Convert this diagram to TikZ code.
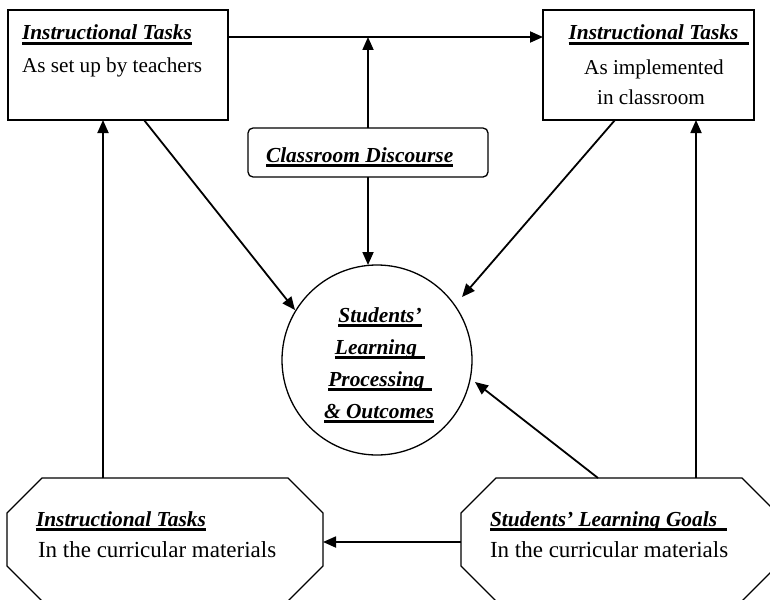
\documentclass[tikz,border=0pt]{standalone}
\usepackage{fontspec}
\setmainfont{Liberation Serif}
\usetikzlibrary{arrows.meta,calc}
\newcommand{\ulbox}[2][0pt]{\setbox0=\hbox{#2\kern#1}\leavevmode\rlap{\rule[-5pt]{\wd0}{2.6pt}}\box0}
\begin{document}
\begin{tikzpicture}[x=1pt,y=-1pt,
  every node/.style={outer sep=0pt},
  boxshape/.style={draw, line width=1.3pt, inner sep=0pt},
  octline/.style={draw, line width=1.3pt},
  arr/.style={line width=1.8pt, -{Triangle[length=13pt,width=11pt]}},
  titlefont/.style={font=\fontsize{21.4}{24}\selectfont\bfseries\itshape, inner sep=0pt},
  bodyfont/.style={font=\fontsize{21.2}{24}\selectfont, inner sep=0pt},
  bodyfontb/.style={font=\fontsize{23}{26}\selectfont, inner sep=0pt}]
\useasboundingbox (0,0) rectangle (770,599);
\clip (0,0) rectangle (770,599);
\fill[white] (0,0) rectangle (770,599);

% boxes
\node[boxshape, minimum width=220pt, minimum height=110pt] (tl) at (118,65) {};
\node[boxshape, minimum width=211pt, minimum height=110pt] (tr) at (648.5,65) {};
\node[boxshape, rounded corners=5pt, minimum width=240pt, minimum height=49pt] (cd) at (368,152.5) {};
\node[circle, draw, line width=1.3pt, minimum size=190pt, inner sep=0pt] (c) at (377,360) {};
\node[minimum width=316pt, minimum height=123pt, inner sep=0pt] (lo) at (165,539.5) {};
\node[minimum width=316pt, minimum height=123pt, inner sep=0pt] (ro) at (619,539.5) {};

% octagons
\draw[octline] ([xshift=35pt]lo.north west) -- ([xshift=-35pt]lo.north east)
  -- ([yshift=-35pt]lo.north east) -- ([yshift=35pt]lo.south east)
  -- ([xshift=-35pt]lo.south east) -- ([xshift=35pt]lo.south west)
  -- ([yshift=35pt]lo.south west) -- ([yshift=-35pt]lo.north west) -- cycle;
\draw[octline] ([xshift=35pt]ro.north west) -- ([xshift=-35pt]ro.north east)
  -- ([yshift=-35pt]ro.north east) -- ([yshift=35pt]ro.south east)
  -- ([xshift=-35pt]ro.south east) -- ([xshift=35pt]ro.south west)
  -- ([yshift=35pt]ro.south west) -- ([yshift=-35pt]ro.north west) -- cycle;

% texts
\node[titlefont, anchor=base west] (t1) at (22,40) {\ulbox{Instructional Tasks}};
\node[bodyfont, anchor=base west] (t2) at (22,73) {As set up by teachers};
\node[titlefont, anchor=base] (t3) at (659,40) {\ulbox[11pt]{Instructional Tasks}};
\node[bodyfont, anchor=base] (t4) at (654,75) {As implemented};
\node[bodyfont, anchor=base] (t5) at (651,105) {in classroom};
\node[titlefont, anchor=base west] (t6) at (266,162) {\ulbox{Classroom Discourse}};
\node[titlefont, anchor=base] (t7) at (380,322) {\ulbox{Students’}};
\node[titlefont, anchor=base] (t8) at (380,354) {\ulbox[8pt]{Learning}};
\node[titlefont, anchor=base] (t9) at (380,386) {\ulbox[7pt]{Processing}};
\node[titlefont, anchor=base] (t10) at (379,418) {\ulbox{\& Outcomes}};
\node[titlefont, anchor=base west] (t11) at (36,526) {\ulbox{Instructional Tasks}};
\node[bodyfontb, anchor=base west] (t12) at (38,557) {In the curricular materials};
\node[titlefont, anchor=base west] (t13) at (490,526) {\ulbox[10pt]{Students’ Learning Goals}};
\node[bodyfontb, anchor=base west] (t14) at (490,557) {In the curricular materials};

% connectors
\coordinate (j) at (368,37);
\draw[arr] ([yshift=-27pt]tl.north east) -- ([yshift=-27pt]tr.north west);
\draw[arr] (cd.north) -- (cd.north |- j);
\draw[arr] (cd.south) -- (cd.south |- c.north);
\draw[arr] ([xshift=136pt]tl.south west) -- ($(c.center)+(-82,-50)$);
\draw[arr] ([xshift=72pt]tr.south west) -- ($(c.center)+(85,-63)$);
\draw[arr] ([xshift=137pt]ro.north west) -- ($(c.center)+(98,22)$);
\draw[arr] ([xshift=96pt]lo.north west) -- ([xshift=95pt]tl.south west);
\draw[arr] ([xshift=235pt]ro.north west) -- ([xshift=153pt]tr.south west);
\draw[arr] ([yshift=-64pt]ro.north west) -- ([yshift=-64pt]lo.north east);
\end{tikzpicture}
\end{document}
